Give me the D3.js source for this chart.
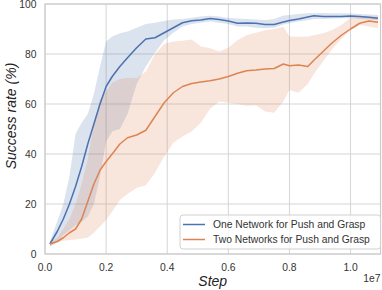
<!DOCTYPE html>
<html>
<head>
<meta charset="utf-8">
<script src="https://cdn.jsdelivr.net/npm/d3@7"></script>
<style>
  body { margin: 0; background: #fff; }
  svg { display: block; font-family: "Liberation Sans", Arial, sans-serif; }
</style>
</head>
<body>
<svg width="382" height="290"></svg>
<script>
// steps in units of 1e7
const steps = [0.016, 0.04, 0.06, 0.08, 0.10, 0.12, 0.14, 0.16, 0.18, 0.20, 0.22, 0.245, 0.27, 0.30, 0.33, 0.36, 0.39, 0.42, 0.45, 0.48, 0.51, 0.54, 0.57, 0.60, 0.63, 0.66, 0.69, 0.72, 0.75, 0.78, 0.80, 0.83, 0.86, 0.88, 0.91, 0.94, 0.97, 1.00, 1.03, 1.06, 1.09]

// One network
const oneMean = [4, 9, 14, 20, 27, 35, 44, 52, 60, 67, 71, 75, 78.5, 82.5, 86, 86.5, 88.5, 90.5, 92.5, 93.3, 93.6, 94.2, 93.8, 93.2, 92.3, 92.4, 92.3, 91.8, 91.8, 92.8, 93.4, 94, 94.8, 95.3, 95, 95, 95, 95.2, 95, 94.7, 94.3]
const oneUpper = [5, 13, 20, 31, 48, 52.5, 56, 64, 75, 85, 87, 88.3, 89, 90.5, 92, 92.5, 93.2, 93.8, 94, 94.5, 95, 95.3, 95, 94.4, 94.2, 94, 93.8, 93.6, 94, 95.4, 95.6, 96, 96.3, 96.3, 96.4, 96.3, 96.3, 96.2, 96, 95.8, 95.6]
const oneLower = [3, 5, 7.5, 9.5, 11.5, 13, 15, 20, 31, 45, 49, 50, 56, 68, 75, 80.5, 85.5, 88.5, 91, 92, 92.5, 93, 92.5, 92, 91, 91, 90.5, 90.3, 90.5, 91.8, 92.3, 93, 93.5, 94, 94, 94.2, 94.3, 94.3, 94, 93.8, 93.5]

// Two networks
const twoMean = [4, 5, 6.5, 8.5, 10, 14, 21, 28, 33.5, 37, 40, 44, 46.5, 47.6, 49.5, 55, 60.5, 64.5, 67, 68.2, 68.8, 69.3, 70, 71, 72.3, 73.3, 73.6, 74, 74.2, 76, 75.3, 75.6, 75, 77.5, 81, 84.5, 87.5, 90, 92.3, 93.2, 92.7]
const twoUpper = [4.5, 6.5, 10, 14, 20, 28, 38, 52, 62, 65, 68.5, 70, 70.5, 70.3, 73, 80, 84, 85, 85.3, 85.8, 83, 82.3, 81, 82.5, 85.5, 87.5, 88.5, 89.5, 90, 90.9, 87, 86.9, 87, 87.5, 88.3, 89.6, 91.6, 94.5, 95, 95, 95]
const twoLower = [3, 4.5, 5.3, 5.6, 5.8, 6.2, 6.5, 8.5, 11, 13.6, 17, 21.6, 24, 26.5, 27.5, 32.5, 39, 44.5, 47, 49, 52.5, 58, 61, 60.5, 60, 59.3, 59.5, 57, 56.5, 61, 65.6, 64.5, 68, 72, 77, 82, 86, 89.6, 91.6, 91, 90.3]

const seriesNames = ['One Network for Push and Grasp', 'Two Networks for Push and Grasp']
const seriesColors = ['#4c72b0', '#dd8452']
const xTicks = [0, 0.2, 0.4, 0.6, 0.8, 1.0]
const yTicks = [0, 20, 40, 60, 80, 100]

const svg = d3.select('svg')
const margin = { left: 45, right: 1.5, top: 4, bottom: 36 }
const width = 382
const height = 290

const x = d3.scaleLinear().domain([0, 1.098]).range([margin.left, width - margin.right])
const y = d3.scaleLinear().domain([0, 100]).range([height - margin.bottom, margin.top])

// grid
svg.append('g')
  .selectAll('line.gx')
  .data(xTicks)
  .join('line')
  .attr('x1', (d) => x(d)).attr('x2', (d) => x(d))
  .attr('y1', y(0)).attr('y2', y(100))
  .attr('stroke', '#d5d5d5').attr('stroke-width', 1)

svg.append('g')
  .selectAll('line.gy')
  .data(yTicks)
  .join('line')
  .attr('x1', x.range()[0]).attr('x2', x.range()[1])
  .attr('y1', (d) => y(d)).attr('y2', (d) => y(d))
  .attr('stroke', '#d5d5d5').attr('stroke-width', 1)

// frame
svg.append('rect')
  .attr('x', x.range()[0]).attr('y', y(100))
  .attr('width', x.range()[1] - x.range()[0])
  .attr('height', y(0) - y(100))
  .attr('fill', 'none').attr('stroke', '#cccccc').attr('stroke-width', 1.2)

const series = [
  { mean: oneMean, lo: oneLower, hi: oneUpper },
  { mean: twoMean, lo: twoLower, hi: twoUpper },
]

const area = (s) => d3.area()
  .x((d, i) => x(steps[i]))
  .y0((d, i) => y(s.lo[i]))
  .y1((d, i) => y(s.hi[i]))(steps)

const line = (s) => d3.line()
  .x((d, i) => x(steps[i]))
  .y((d, i) => y(s.mean[i]))(steps)

series.forEach((s, k) => {
  svg.append('path')
    .attr('d', area(s))
    .attr('fill', seriesColors[k])
    .attr('fill-opacity', 0.2)
})

series.forEach((s, k) => {
  svg.append('path')
    .attr('d', line(s))
    .attr('fill', 'none')
    .attr('stroke', seriesColors[k])
    .attr('stroke-width', 1.5)
    .attr('stroke-linejoin', 'round')
})

// tick labels
svg.append('g')
  .selectAll('text')
  .data(yTicks)
  .join('text')
  .attr('x', margin.left - 8.5)
  .attr('y', (d) => y(d))
  .attr('dy', '0.35em')
  .attr('text-anchor', 'end')
  .attr('font-size', 10.3)
  .attr('fill', '#333')
  .text((d) => d)

svg.append('g')
  .selectAll('text')
  .data(xTicks)
  .join('text')
  .attr('x', (d) => x(d))
  .attr('y', 270.7)
  .attr('text-anchor', 'middle')
  .attr('font-size', 10.3)
  .attr('fill', '#333')
  .text((d) => d3.format('.1f')(d))

svg.append('text')
  .attr('x', 380.5).attr('y', 282)
  .attr('text-anchor', 'end')
  .attr('font-size', 10.3)
  .attr('fill', '#333')
  .text('1e7')

// axis labels
svg.append('text')
  .attr('x', (x.range()[0] + x.range()[1]) / 2)
  .attr('y', 285.5)
  .attr('text-anchor', 'middle')
  .attr('font-size', 14)
  .attr('font-style', 'italic')
  .attr('fill', '#222')
  .text('Step')

svg.append('text')
  .attr('transform', 'translate(15.5,116) rotate(-90)')
  .attr('text-anchor', 'middle')
  .attr('font-size', 14)
  .attr('font-style', 'italic')
  .attr('fill', '#222')
  .text('Success rate (%)')

// legend
const legend = svg.append('g').attr('transform', 'translate(180,215)')
legend.append('rect')
  .attr('width', 200.5).attr('height', 34)
  .attr('rx', 3)
  .attr('fill', '#fff').attr('fill-opacity', 0.8)
  .attr('stroke', '#d0d0d0').attr('stroke-width', 1)

seriesNames.forEach((name, k) => {
  const row = legend.append('g').attr('transform', `translate(0,${9.5 + k * 15})`)
  row.append('line')
    .attr('x1', 3).attr('x2', 25)
    .attr('stroke', seriesColors[k]).attr('stroke-width', 1.5)
  row.append('text')
    .attr('x', 33).attr('dy', '0.35em')
    .attr('font-size', 10.3)
    .attr('fill', '#333')
    .text(name)
})
</script>
</body>
</html>
